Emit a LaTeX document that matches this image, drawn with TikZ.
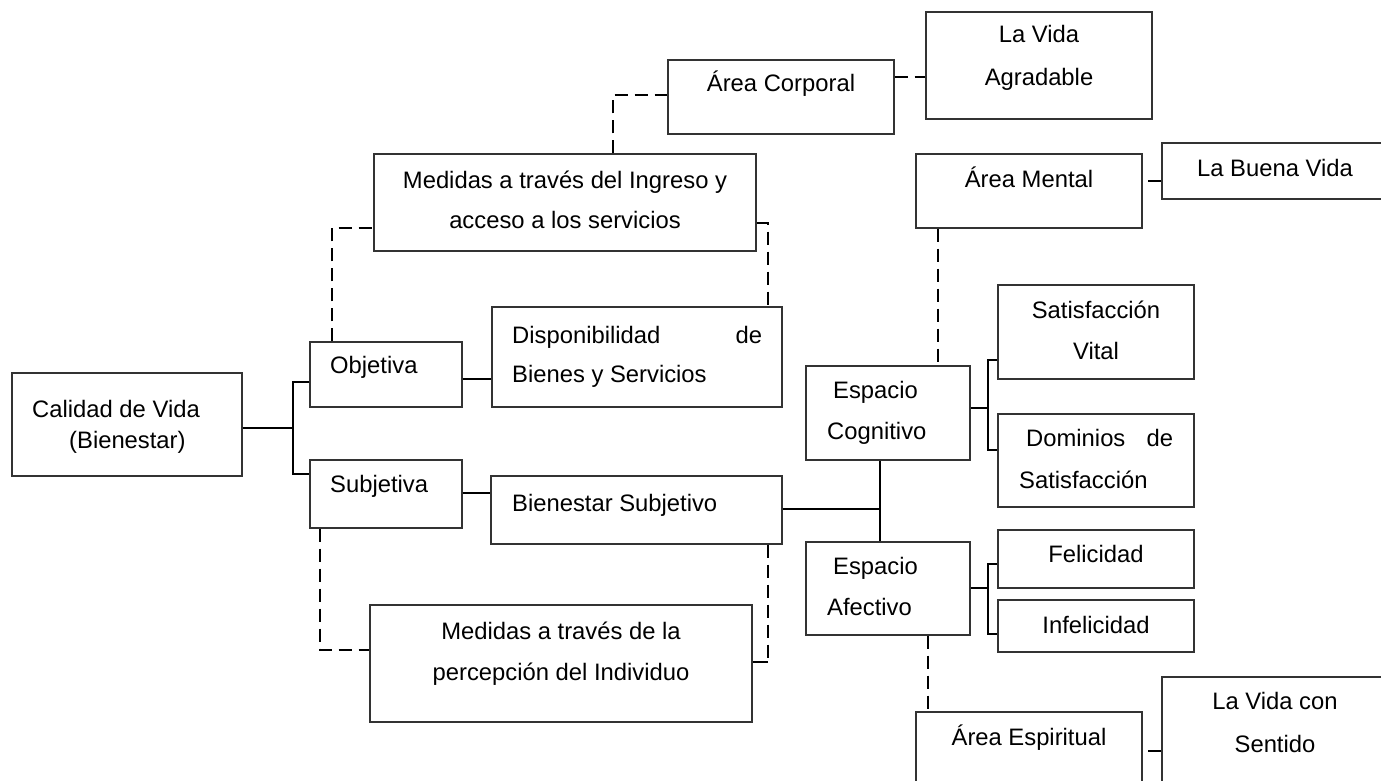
\documentclass[tikz,border=0pt]{standalone}
\usepackage{fontspec}
\setmainfont{Liberation Sans}
\usetikzlibrary{fit}
\newcommand\mkbox[5]{%
  \coordinate (#1-a) at (#2,#3);
  \coordinate (#1-b) at (#4,#5);
  \node[box, fit=(#1-a)(#1-b)] (#1) {};}
\begin{document}
\begin{tikzpicture}[x=1pt,y=-1pt,
  box/.style={draw=black!80, line width=1.4pt, inner sep=0pt},
  txt/.style={inner sep=0pt, font=\fontsize{23.8}{28}\selectfont, text=black},
  link/.style={line width=2.2pt, black},
  dlink/.style={line width=2.2pt, black, dash pattern=on 13pt off 7pt},
]
\clip (0,0) rectangle (1381,781);
\fill[white] (0,0) rectangle (1381,781);

% boxes
\mkbox{calidad}{12}{373}{242}{476}
\mkbox{objetiva}{310}{342}{462}{407}
\mkbox{subjetiva}{310}{460}{462}{528}
\mkbox{disp}{492}{307}{782}{407}
\mkbox{ingreso}{374}{154}{756}{251}
\mkbox{corporal}{668}{60}{894}{134}
\mkbox{agradable}{926}{12}{1152}{119}
\mkbox{bienestar}{491}{476}{782}{544}
\mkbox{percepcion}{370}{605}{752}{722}
\mkbox{mental}{916}{154}{1142}{228}
\mkbox{buena}{1162}{143}{1395}{199}
\mkbox{cognitivo}{806}{366}{970}{460}
\mkbox{vital}{998}{285}{1194}{379}
\mkbox{dominios}{998}{414}{1194}{507}
\mkbox{afectivo}{806}{542}{970}{635}
\mkbox{felicidad}{998}{530}{1194}{588}
\mkbox{infelicidad}{998}{600}{1194}{652}
\mkbox{espiritual}{916}{712}{1142}{795}
\mkbox{sentido}{1162}{677}{1395}{795}

% solid connectors
\coordinate (j1) at (293,428);
\coordinate (j1a) at (293,382);
\coordinate (j1b) at (293,474);
\draw[link] (calidad.east |- j1) -- (j1);
\draw[link] (objetiva.west |- j1a) -- (j1a) -- (j1b) -- (subjetiva.west |- j1b);
\coordinate (j2) at (477,379);
\draw[link] (objetiva.east |- j2) -- (disp.west |- j2);
\coordinate (j3) at (476,493);
\draw[link] (subjetiva.east |- j3) -- (bienestar.west |- j3);
\coordinate (j4) at (880,509);
\draw[link] (bienestar.east |- j4) -- (j4);
\draw[link] (cognitivo.south -| j4) -- (afectivo.north -| j4);
\coordinate (j5) at (988,408);
\coordinate (j5a) at (988,360);
\coordinate (j5b) at (988,450);
\draw[link] (cognitivo.east |- j5) -- (j5);
\draw[link] (vital.west |- j5a) -- (j5a) -- (j5b) -- (dominios.west |- j5b);
\coordinate (j6) at (988,588);
\coordinate (j6a) at (988,564);
\coordinate (j6b) at (988,634);
\draw[link] (afectivo.east |- j6) -- (j6);
\draw[link] (felicidad.west |- j6a) -- (j6a) -- (j6b) -- (infelicidad.west |- j6b);
\coordinate (m1) at (1148,181);
\draw[link] (m1) -- (buena.west |- m1);
\coordinate (m2) at (1148,751);
\draw[link] (m2) -- (sentido.west |- m2);

% dashed connectors
\coordinate (d1) at (332,228);
\draw[dlink] (objetiva.north -| d1) -- (d1) -- (ingreso.west |- d1);
\coordinate (d2) at (768,223);
\draw[dlink] (ingreso.east |- d2) -- (d2) -- (disp.north -| d2);
\coordinate (d3) at (613,95);
\draw[dlink] (ingreso.north -| d3) -- (d3) -- (corporal.west |- d3);
\coordinate (d4) at (910,77);
\draw[dlink] (corporal.east |- d4) -- (agradable.west |- d4);
\coordinate (d5) at (320,650);
\draw[dlink] (subjetiva.south -| d5) -- (d5) -- (percepcion.west |- d5);
\coordinate (d6) at (768,662);
\draw[dlink] (bienestar.south -| d6) -- (d6);
\draw[link] (d6) -- (percepcion.east |- d6);
\coordinate (d7) at (938,300);
\draw[dlink] (mental.south -| d7) -- (cognitivo.north -| d7);
\coordinate (d8) at (928,670);
\draw[dlink] (afectivo.south -| d8) -- (espiritual.north -| d8);

% texts
\node[txt, anchor=base west] (t-cal1) at (32,417) {Calidad de Vida};
\node[txt, anchor=base west] (t-cal2) at (69,448) {(Bienestar)};
\node[txt, anchor=base west] (t-obj) at (330,373) {Objetiva};
\node[txt, anchor=base west] (t-sub) at (330,492) {Subjetiva};
\node[txt, anchor=base west] (t-disp1) at (512,343) {\hbox to 250pt{Disponibilidad\hfil de}};
\node[txt, anchor=base west] (t-disp2) at (512,382) {Bienes y Servicios};
\node[txt, anchor=base] (t-ing1) at (565,188) {Medidas a través del Ingreso y};
\node[txt, anchor=base] (t-ing2) at (565,228) {acceso a los servicios};
\node[txt, anchor=base] (t-corp) at (781,92) {Área Corporal};
\node[txt, anchor=base] (t-agr1) at (1039,43) {La Vida};
\node[txt, anchor=base] (t-agr2) at (1039,86) {Agradable};
\node[txt, anchor=base] (t-ment) at (1029,187) {Área Mental};
\node[txt, anchor=base] (t-buena) at (1275,176) {La Buena Vida};
\node[txt, anchor=base] (t-vit1) at (1096,318) {Satisfacción};
\node[txt, anchor=base] (t-vit2) at (1096,359) {Vital};
\node[txt, anchor=base west] (t-cog1) at (833,398) {Espacio};
\node[txt, anchor=base west] (t-cog2) at (827,439) {Cognitivo};
\node[txt, anchor=base west] (t-dom1) at (1026,446) {\hbox to 147pt{Dominios\hfil de}};
\node[txt, anchor=base west] (t-dom2) at (1019,488) {Satisfacción};
\node[txt, anchor=base] (t-fel) at (1096,562) {Felicidad};
\node[txt, anchor=base] (t-inf) at (1096,633) {Infelicidad};
\node[txt, anchor=base west] (t-afe1) at (833,574) {Espacio};
\node[txt, anchor=base west] (t-afe2) at (827,615) {Afectivo};
\node[txt, anchor=base] (t-esp) at (1029,745) {Área Espiritual};
\node[txt, anchor=base] (t-sen1) at (1275,709) {La Vida con};
\node[txt, anchor=base] (t-sen2) at (1275,752) {Sentido};
\node[txt, anchor=base west] (t-bien) at (512,511) {Bienestar Subjetivo};
\node[txt, anchor=base] (t-per1) at (561,639) {Medidas a través de la};
\node[txt, anchor=base] (t-per2) at (561,680) {percepción del Individuo};
\end{tikzpicture}
\end{document}
